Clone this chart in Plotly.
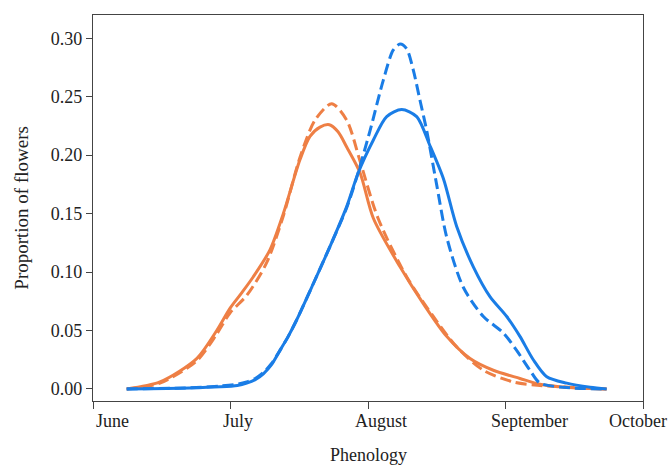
import plotly.graph_objects as go

# x values: months since June 1 (June=0, July=1, August=2, September=3, October=4)
orange_solid_x = [0.245, 0.487, 0.754, 0.900, 0.996, 1.08, 1.166, 1.287, 1.384, 1.505, 1.578, 1.651, 1.719,
                  1.782, 1.845, 1.942, 2.039, 2.233, 2.402, 2.572, 2.742, 2.911, 3.105, 3.251, 3.491, 3.736]
orange_solid_y = [0.0, 0.006, 0.026, 0.050, 0.069, 0.082, 0.096, 0.119, 0.150, 0.196, 0.216, 0.224, 0.226,
                  0.220, 0.207, 0.185, 0.146, 0.1045, 0.073, 0.045, 0.026, 0.016, 0.009, 0.004, 0.001, 0.0]

orange_dash_x = [0.245, 0.487, 0.754, 0.900, 0.996, 1.118, 1.263, 1.384, 1.505, 1.615, 1.736, 1.845,
                 1.942, 2.073, 2.281, 2.475, 2.645, 2.839, 3.057, 3.251, 3.736]
orange_dash_y = [0.0, 0.005, 0.024, 0.047, 0.065, 0.080, 0.108, 0.148, 0.198, 0.230, 0.244, 0.230,
                 0.195, 0.146, 0.096, 0.062, 0.036, 0.016, 0.006, 0.003, 0.0]

blue_solid_x = [0.245, 0.70, 0.924, 1.05, 1.118, 1.18, 1.239, 1.30, 1.360, 1.42, 1.481, 1.602, 1.724,
                1.845, 1.929, 2.039, 2.136, 2.245, 2.354, 2.451, 2.548, 2.645, 2.766, 2.887, 3.009,
                3.105, 3.202, 3.300, 3.445, 3.615, 3.736]
blue_solid_y = [0.0, 0.0008, 0.0018, 0.003, 0.005, 0.008, 0.013, 0.021, 0.033, 0.045, 0.059, 0.090,
                0.122, 0.156, 0.185, 0.213, 0.233, 0.239, 0.233, 0.208, 0.180, 0.139, 0.1045, 0.079,
                0.062, 0.045, 0.025, 0.0105, 0.005, 0.0015, 0.0]

blue_dash_x = [0.245, 0.70, 0.924, 1.05, 1.118, 1.18, 1.239, 1.30, 1.360, 1.42, 1.481, 1.602, 1.724,
               1.845, 1.918, 2.015, 2.111, 2.184, 2.233, 2.281, 2.329, 2.378, 2.427, 2.499, 2.572,
               2.693, 2.839, 2.984, 3.081, 3.178, 3.251, 3.469, 3.736]
blue_dash_y = [0.0, 0.001, 0.0025, 0.004, 0.006, 0.009, 0.014, 0.022, 0.033, 0.045, 0.059, 0.090,
               0.122, 0.155, 0.181, 0.221, 0.264, 0.290, 0.295, 0.291, 0.273, 0.247, 0.221, 0.175,
               0.130, 0.087, 0.062, 0.048, 0.033, 0.016, 0.005, 0.001, 0.0]

month_ticks = [0, 1, 2, 3, 4]
month_labels = ["June", "July", "August", "September", "October"]
y_ticks = [0.00, 0.05, 0.10, 0.15, 0.20, 0.25, 0.30]

# layout-only: label centre positions (in month units)
label_pos = [0.145, 1.055, 2.095, 3.171, 3.964]

ORANGE = "#EE7F45"
BLUE = "#1A7DE6"
FONT = "Liberation Serif"
TXT = "#222222"

fig = go.Figure()
series = [
    (orange_solid_x, orange_solid_y, ORANGE, "solid"),
    (orange_dash_x, orange_dash_y, ORANGE, "11px,5px"),
    (blue_solid_x, blue_solid_y, BLUE, "solid"),
    (blue_dash_x, blue_dash_y, BLUE, "11px,5px"),
]
for xs, ys, col, dash in series:
    fig.add_trace(go.Scatter(x=xs, y=ys, mode="lines",
                             line=dict(color=col, width=3, dash=dash, shape="spline", smoothing=0.8),
                             showlegend=False, hoverinfo="skip"))

fig.update_layout(
    width=671, height=465,
    margin=dict(l=93, r=28, t=15, b=64),
    paper_bgcolor="white", plot_bgcolor="white",
    font=dict(family=FONT, size=18, color=TXT),
)
fig.update_xaxes(range=[0, 4], tickvals=month_ticks, ticktext=["" for _ in month_labels],
                 ticks="outside", ticklen=7, tickcolor="#444", tickwidth=1.3,
                 showline=True, linecolor="#444", linewidth=1.3, mirror=True,
                 showgrid=False, zeroline=False)
fig.update_yaxes(range=[-0.0103, 0.3199], tickvals=y_ticks, tickformat=".2f",
                 ticks="outside", ticklen=6, tickcolor="#444", tickwidth=1.3,
                 showline=True, linecolor="#444", linewidth=1.3, mirror=True,
                 showgrid=False, zeroline=False,
                 tickfont=dict(family=FONT, size=18, color=TXT))

for lab, pos in zip(month_labels, label_pos):
    fig.add_annotation(x=pos, y=-0.052, xref="x", yref="paper", text=lab, showarrow=False,
                       xanchor="center", yanchor="middle",
                       font=dict(family=FONT, size=18, color=TXT))

fig.add_annotation(x=0.5, y=-0.139, xref="paper", yref="paper", text="Phenology", showarrow=False,
                   xanchor="center", yanchor="middle", font=dict(family=FONT, size=18, color=TXT))
fig.add_annotation(x=-0.129, y=0.501, xref="paper", yref="paper", text="Proportion of flowers",
                   showarrow=False, textangle=-90, xanchor="center", yanchor="middle",
                   font=dict(family=FONT, size=19, color=TXT))

fig.write_html("out.html")
